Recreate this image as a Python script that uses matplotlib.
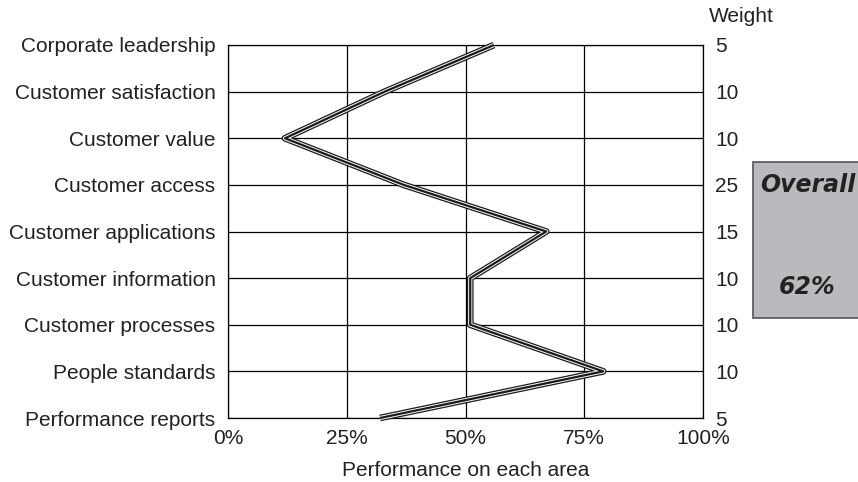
import matplotlib
matplotlib.use("Agg")
import matplotlib.pyplot as plt
from matplotlib.patches import Rectangle

categories = ["Corporate leadership", "Customer satisfaction", "Customer value",
              "Customer access", "Customer applications", "Customer information",
              "Customer processes", "People standards", "Performance reports"]
performance = [56, 33, 12, 37, 67, 51, 51, 79, 32]
weights = [5, 10, 10, 25, 15, 10, 10, 10, 5]
x_ticks = [0, 25, 50, 75, 100]
x_tick_labels = ["0%", "25%", "50%", "75%", "100%"]
overall_label = "Overall"
overall_value = "62%"

plt.rcParams['font.family'] = ['Liberation Sans', 'DejaVu Sans']
FS = 15

fig = plt.figure(figsize=(8.58, 4.82), dpi=100)
ax = fig.add_axes([228/858, 1-418/482, (703-228)/858, (418-45)/482])

ypos = list(range(len(categories)))
ax.set_xlim(0, 100)
ax.set_ylim(len(categories)-1, 0)
ax.set_xticks(x_ticks)
ax.set_xticklabels(x_tick_labels, fontsize=FS)
ax.set_yticks(ypos)
ax.set_yticklabels(categories, fontsize=FS)
ax.grid(True, color='black', linewidth=0.9)
ax.set_axisbelow(True)
for s in ax.spines.values():
    s.set_color('black')
    s.set_linewidth(0.9)
ax.tick_params(axis='y', length=0, pad=9, colors='#222222')
ax.tick_params(axis='x', length=0, pad=8, colors='#222222')
ax.set_xlabel("Performance on each area", fontsize=FS, labelpad=9, color='#222222')

ax.plot(performance, ypos, color='#1a1a1a', lw=4.8, solid_joinstyle='round', solid_capstyle='butt', zorder=3, clip_on=False)
ax.plot(performance, ypos, color='white', lw=3.0, solid_joinstyle='round', solid_capstyle='butt', zorder=4, clip_on=False)
ax.plot(performance, ypos, color='#1a1a1a', lw=1.6, solid_joinstyle='round', solid_capstyle='butt', zorder=5, clip_on=False)

ax2 = ax.twinx()
ax2.set_ylim(ax.get_ylim())
ax2.set_yticks(ypos)
ax2.set_yticklabels([str(w) for w in weights], fontsize=FS)
ax2.tick_params(axis='y', length=0, pad=9, colors='#222222')
for s in ax2.spines.values():
    s.set_visible(False)
fig.text(741/858, 1-17/482, "Weight", fontsize=FS, ha='center', va='center', color='#222222')

box = Rectangle((753/858, 1-318/482), 110/858, (318-162)/482, transform=fig.transFigure,
                facecolor='#b9babd', edgecolor='#555555', linewidth=1.2)
fig.patches.append(box)
fig.text(808/858, 1-185/482, overall_label, fontsize=17, fontweight='bold', style='italic',
         ha='center', va='center', color='#222222', family=['DejaVu Sans'])
fig.text(807/858, 1-287/482, overall_value, fontsize=17, fontweight='bold', style='italic',
         ha='center', va='center', color='#222222', family=['DejaVu Sans'])

fig.savefig("out.png", dpi=100)
